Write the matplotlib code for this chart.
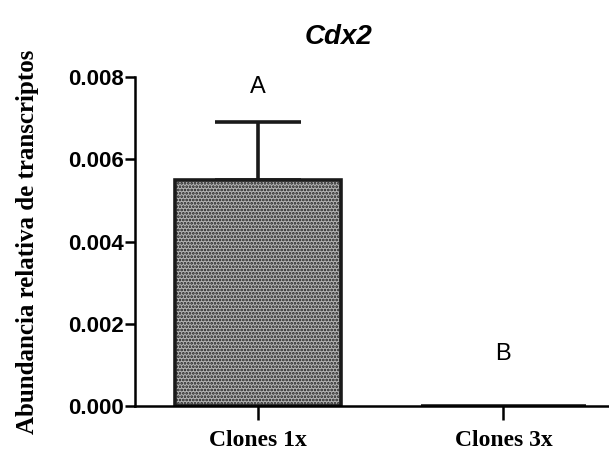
import matplotlib.pyplot as plt

# Datos del grafico
grupos = ['Clones 1x', 'Clones 3x']
abundancia = [0.0055, 0.0]
error = [0.0014, 0.0]
letras = ['A', 'B']
ticks_y = [0.000, 0.002, 0.004, 0.006, 0.008]

plt.rcParams['hatch.color'] = '#2a2a2a'
plt.rcParams['hatch.linewidth'] = 1.3

fig = plt.figure(figsize=(6.09, 4.65), dpi=100)
ax = fig.add_axes([135 / 609, 1 - 406 / 465, 1 - 135 / 609, (406 - 77) / 465])

x = list(range(len(grupos)))
ax.bar(x, abundancia, width=0.675, color='#b4b4b4', edgecolor='#1a1a1a',
       linewidth=2.6, hatch='.....', zorder=2)

# Barra de error solo hacia arriba
ax.errorbar(x[0], abundancia[0], yerr=[[0], [error[0]]], fmt='none',
            ecolor='#1a1a1a', elinewidth=2.6, capsize=31, capthick=2.6, zorder=1)

# Letras de significancia
ax.text(x[0], abundancia[0] + error[0] + 0.0006, letras[0], ha='center',
        va='bottom', fontsize=17, family='Liberation Sans')
ax.text(x[1], 0.001, letras[1], ha='center', va='bottom', fontsize=17,
        family='Liberation Sans')

ax.set_xlim(-0.5, 1.43)
ax.set_ylim(0, 0.008)
ax.set_yticks(ticks_y)
ax.set_yticklabels(['%.3f' % v for v in ticks_y], fontsize=16,
                   fontweight='bold', family='Liberation Sans')
ax.set_xticks(x)
ax.set_xticklabels(grupos, fontsize=17, fontweight='bold',
                   family='Liberation Serif')

ax.spines['top'].set_visible(False)
ax.spines['right'].set_visible(False)
ax.spines['left'].set_linewidth(1.8)
ax.spines['bottom'].set_linewidth(1.8)
ax.tick_params(axis='y', length=7, width=1.8, pad=1)
ax.tick_params(axis='x', length=10, width=1.8, pad=7)

ax.set_ylabel('Abundancia relativa de transcriptos', fontsize=18,
              fontweight='bold', family='Liberation Serif', labelpad=21)
ax.set_title('Cdx2', fontsize=20, fontweight='bold', style='italic',
             family='Liberation Sans', pad=24, x=0.43)

fig.savefig('out.png', dpi=100)
